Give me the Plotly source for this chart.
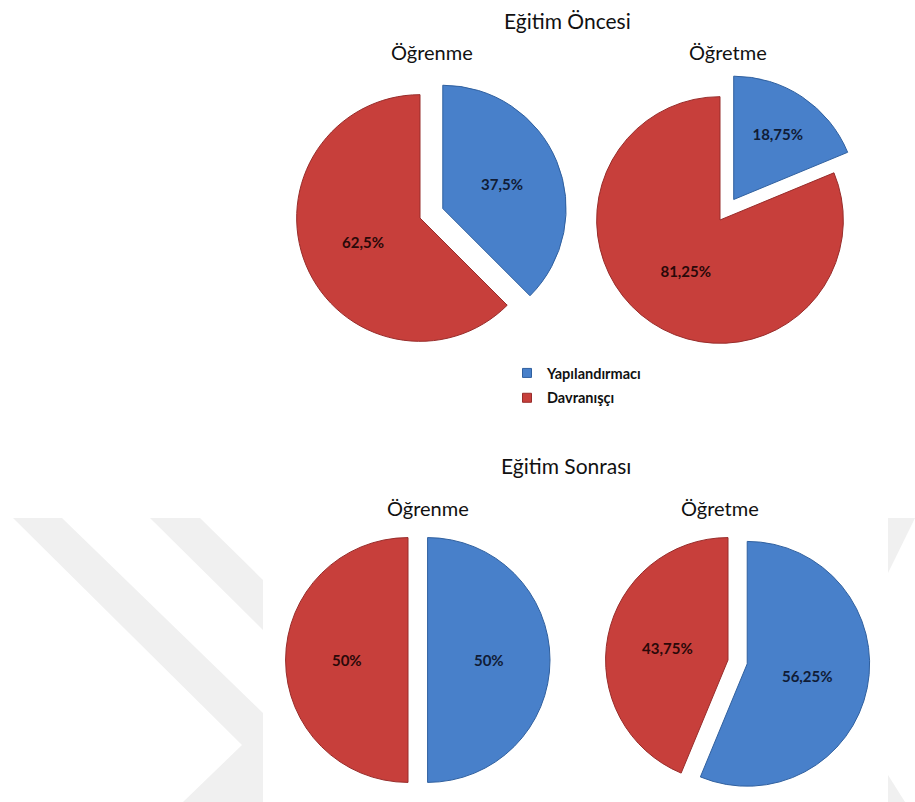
import plotly.graph_objects as go

# --- data -------------------------------------------------------------
labels = ["Yapılandırmacı", "Davranışçı"]
pre_learning = [37.5, 62.5]      # Eğitim Öncesi – Öğrenme
pre_teaching = [18.75, 81.25]    # Eğitim Öncesi – Öğretme
post_learning = [50, 50]         # Eğitim Sonrası – Öğrenme
post_teaching = [56.25, 43.75]   # Eğitim Sonrası – Öğretme
panel_titles = ["Öğrenme", "Öğretme"]
section_titles = ["Eğitim Öncesi", "Eğitim Sonrası"]

# --- styling ----------------------------------------------------------
W, H = 915, 802
FONT = "Lato, 'Open Sans', sans-serif"
slice_colors = ["#4880ca", "#c73f3b"]
edge_colors = ["#30609f", "#982c2a"]
label_colors = ["#101c36", "#2a0909"]


def pct(v):
    return f"{v:g}".replace(".", ",") + "%"


def box(cx, cy, half):
    """Square pie domain centred on a pixel position."""
    return dict(x=[(cx - half) / W, (cx + half) / W],
                y=[(H - cy - half) / H, (H - cy + half) / H])


def pie(values, cx, cy, half, pull):
    return go.Pie(
        labels=labels,
        values=values,
        text=[pct(v) for v in values],
        textinfo="text",
        textposition="inside",
        insidetextorientation="horizontal",
        textfont=dict(family=FONT, size=15, color=label_colors, weight="bold"),
        sort=False,
        direction="clockwise",
        rotation=0,
        pull=[pull, 0],
        marker=dict(colors=slice_colors, line=dict(color=edge_colors, width=1)),
        domain=box(cx, cy, half),
        showlegend=False,
        hoverinfo="label+text",
    )


fig = go.Figure()
fig.add_trace(pie(pre_learning, 420, 218, 148, 0.20))
fig.add_trace(pie(pre_teaching, 720, 220, 148, 0.20))
fig.add_trace(pie(post_learning, 408, 660, 142, 0.16))
fig.add_trace(pie(post_teaching, 728, 660, 142, 0.16))

# shared legend entries for the two categories
for name, col, edge in zip(labels, slice_colors, edge_colors):
    fig.add_trace(go.Scatter(
        x=[None], y=[None], mode="markers", name=name, legendgroup=name,
        marker=dict(symbol="square", size=9, color=col,
                    line=dict(color=edge, width=1)),
        hoverinfo="skip",
    ))


def px_ann(text, x, y, size):
    return dict(text=text, x=x / W, y=1 - y / H, xref="paper", yref="paper",
                xanchor="center", yanchor="middle", showarrow=False,
                font=dict(family=FONT, size=size, color="#111111"))


annotations = [
    px_ann(section_titles[0], 567, 20, 21),
    px_ann(panel_titles[0], 432, 52, 20),
    px_ann(panel_titles[1], 728, 52, 20),
    px_ann(section_titles[1], 566, 465, 21),
    px_ann(panel_titles[0], 428, 508, 20),
    px_ann(panel_titles[1], 720, 508, 20),
]


# faint chevron background mark
def poly(points):
    segs = [f"{'M' if i == 0 else 'L'} {x / W:.5f},{1 - y / H:.5f}"
            for i, (x, y) in enumerate(points)]
    return dict(type="path", xref="paper", yref="paper", layer="below",
                path=" ".join(segs) + " Z", fillcolor="#f0f0f0",
                line=dict(width=0))


shapes = [
    poly([(13, 518), (62, 518), (263, 713), (263, 802), (183, 802), (242, 745)]),
    poly([(150, 518), (200, 518), (263, 580), (263, 630)]),
    poly([(888, 518), (915, 518), (888, 573)]),
    poly([(888, 775), (888, 802), (905, 802)]),
]

fig.update_layout(
    width=W, height=H,
    margin=dict(l=0, r=0, t=0, b=0),
    paper_bgcolor="white",
    plot_bgcolor="white",
    font=dict(family=FONT, color="#111111"),
    annotations=annotations,
    shapes=shapes,
    xaxis=dict(visible=False),
    yaxis=dict(visible=False),
    legend=dict(x=507 / W, y=1 - 357 / H, xanchor="left", yanchor="top",
                font=dict(family=FONT, size=14.5, color="#111111", weight="bold"),
                bgcolor="rgba(0,0,0,0)", traceorder="grouped",
                tracegroupgap=3),
)

fig.write_html("out.html")
